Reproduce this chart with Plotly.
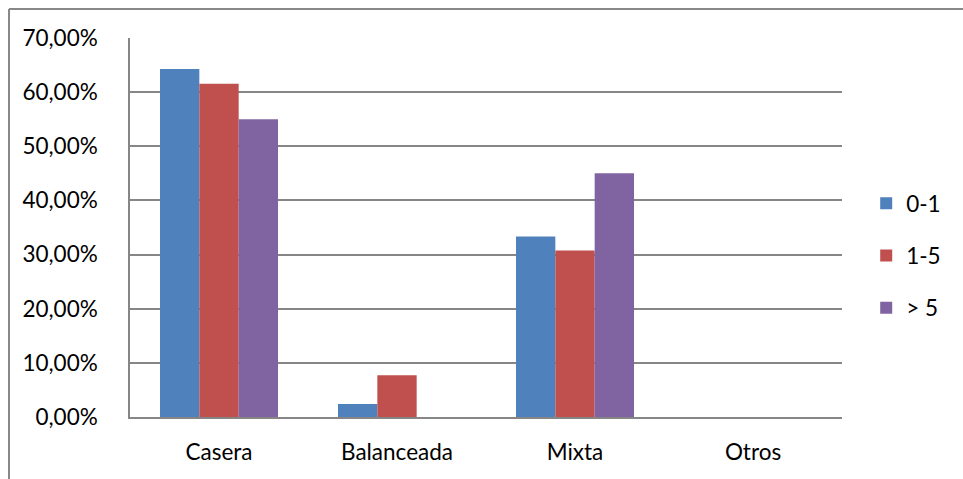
import plotly.graph_objects as go

categories = ["Casera", "Balanceada", "Mixta", "Otros"]
series_names = ["0-1", "1-5", "> 5"]
s_0_1 = [0.6429, 0.0238, 0.3333, 0.0]
s_1_5 = [0.6154, 0.0769, 0.3077, 0.0]
s_gt5 = [0.55, 0.0, 0.45, 0.0]
colors = ["#4F81BD", "#C0504D", "#8064A2"]
tick_vals = [0, 0.1, 0.2, 0.3, 0.4, 0.5, 0.6, 0.7]
tick_text = ["0,00%", "10,00%", "20,00%", "30,00%", "40,00%", "50,00%", "60,00%", "70,00%"]

W, H = 963, 479
L, R, T, B = 130, 121, 38, 62
pw, ph = W - L - R, H - T - B

fig = go.Figure()
for name, vals, c in zip(series_names, [s_0_1, s_1_5, s_gt5], colors):
    fig.add_trace(go.Bar(x=categories, y=vals, name=name, marker_color=c,
                         marker_line_width=0, legendgroup=name))

FONT = "Lato, Calibri, sans-serif"
FS = 22.5
bx = (9 - L) / pw
by = (H - B - 9) / ph
fig.update_layout(
    width=W, height=H,
    margin=dict(l=L, r=R, t=T, b=B, autoexpand=False),
    paper_bgcolor="white", plot_bgcolor="white",
    barmode="group", bargap=0.337, bargroupgap=0,
    font=dict(family=FONT, size=FS, color="black"),
    xaxis=dict(showgrid=False, showline=True, linecolor="#868686", linewidth=1.5,
               ticks="", tickfont=dict(size=FS), ticklabelstandoff=14),
    yaxis=dict(range=[0, 0.7], tickvals=tick_vals, ticktext=tick_text,
               showgrid=True, gridcolor="#868686", gridwidth=1.5,
               showline=True, linecolor="#868686", linewidth=1.5,
               ticks="", zeroline=False, tickfont=dict(size=FS),
               ticklabelstandoff=26),
    legend=dict(x=1.034, y=0.426, xanchor="left", yanchor="middle",
                font=dict(size=FS), tracegroupgap=20, itemwidth=30,
                bgcolor="rgba(0,0,0,0)"),
    shapes=[
        dict(type="line", xref="paper", yref="paper", x0=bx, x1=bx, y0=-0.3, y1=by,
             line=dict(color="#888888", width=2)),
        dict(type="line", xref="paper", yref="paper", x0=bx, x1=1.3, y0=by, y1=by,
             line=dict(color="#888888", width=2)),
    ],
)
fig.write_html("out.html")
